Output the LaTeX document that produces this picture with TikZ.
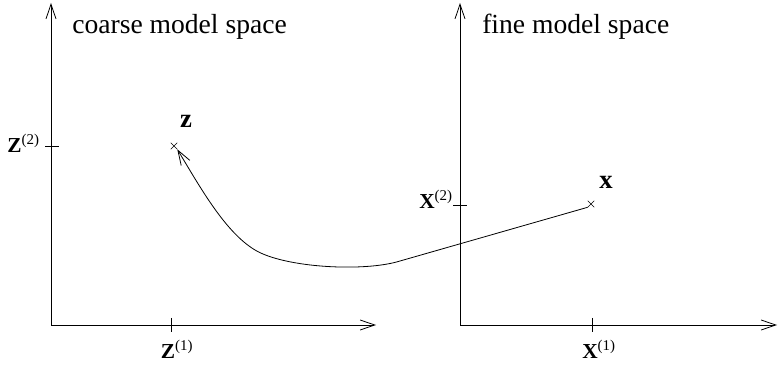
\documentclass[tikz,border=0pt]{standalone}
\usepackage{fontspec}
\setmainfont{Liberation Serif}
\usetikzlibrary{arrows.meta, positioning, shapes.misc}

\begin{document}
\begin{tikzpicture}[
    x=0.75pt, y=-0.75pt,
    axis/.style={-{Straight Barb[length=11pt,width=7.5pt]}, line width=0.6pt},
    tick/.style={line width=0.6pt},
    point/.style={cross out, draw, minimum size=4.5pt, inner sep=0pt, line width=0.4pt},
    title/.style={font=\fontsize{20.7}{24}\selectfont, anchor=base west, inner sep=0pt},
    coord/.style={font=\fontsize{16}{18}\selectfont, inner sep=0pt},
    vec/.style={font=\fontsize{20}{22}\selectfont\bfseries, inner sep=0pt, anchor=base},
    mapping/.style={-{Straight Barb[length=11pt,width=7.5pt]}, line width=0.6pt}
]
\useasboundingbox (0,0) rectangle (778,366);

% coarse model space
\coordinate (corig) at (51,325);
\coordinate (ctop) at (51,3);
\coordinate (cright) at (376,325);
\draw[axis] (corig) -- (ctop);
\draw[axis] (corig) -- (cright);
\node[title] (ctitle) at (72,34) {coarse model space};
\draw[tick] (171,318) -- (171,332);
\draw[tick] (45,146) -- (59,146);
\node[coord, anchor=base] (z1) at (177,359) {\textbf{Z}\textsuperscript{(1)}};
\node[coord, anchor=base east] (z2) at (40,153) {\textbf{Z}\textsuperscript{(2)}};
\node[point] (zpt) at (174,146) {};
\node[vec] (zlab) at (186,128) {z};

% fine model space
\coordinate (forig) at (460,325);
\coordinate (ftop) at (460,3);
\coordinate (fright) at (777,325);
\draw[axis] (forig) -- (ftop);
\draw[axis] (forig) -- (fright);
\node[title] (ftitle) at (482,34) {fine model space};
\draw[tick] (592,318) -- (592,332);
\draw[tick] (453,205) -- (467,205);
\node[coord, anchor=base] (x1) at (599,359) {\textbf{X}\textsuperscript{(1)}};
\node[coord, anchor=base east] (x2) at (453,209) {\textbf{X}\textsuperscript{(2)}};
\node[point] (xpt) at (591,204) {};
\node[vec] (xlab) at (606,189) {x};

% mapping from fine to coarse
\coordinate (bend) at (400,261);
\coordinate (knee) at (255,250);
\draw[mapping] (xpt.south west) -- (bend)
    .. controls (365,272) and (285,268) .. (knee)
    .. controls (225,232) and (200,187) .. (zpt.south east);

\end{tikzpicture}
\end{document}
